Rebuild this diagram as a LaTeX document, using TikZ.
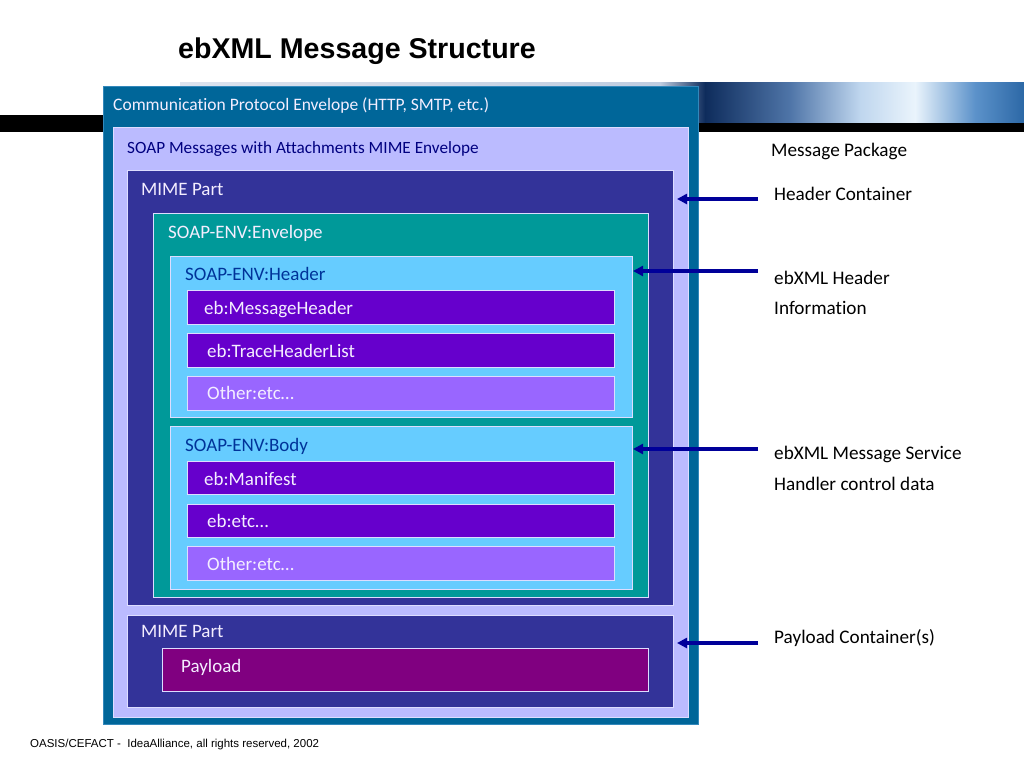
\documentclass[tikz,border=0pt]{standalone}
\usepackage{fontspec}
\setmainfont{Carlito}[Ligatures=NoCommon]
\newfontfamily\arialf{Liberation Sans}
\usetikzlibrary{arrows.meta}
\definecolor{cOuter}{HTML}{006699}
\definecolor{cOuterB}{HTML}{3388BB}
\definecolor{cLav}{HTML}{BBBBFF}
\definecolor{cLavB}{HTML}{DDDDFF}
\definecolor{cMime}{HTML}{333399}
\definecolor{cTeal}{HTML}{009999}
\definecolor{cLight}{HTML}{66CCFF}
\definecolor{cItem}{HTML}{6600CC}
\definecolor{cOther}{HTML}{9966FF}
\definecolor{cPay}{HTML}{800080}
\definecolor{cArrow}{HTML}{000099}
\definecolor{cNavy}{HTML}{000080}
\definecolor{cHdrTxt}{HTML}{003399}
\definecolor{cWTxt}{HTML}{F4EEFF}
\definecolor{sPale}{HTML}{DCE3EE}
\definecolor{sNavy}{HTML}{0E2C5C}
\definecolor{sMid}{HTML}{4F75A8}
\definecolor{sLite}{HTML}{BFD6EE}
\definecolor{sWhite}{HTML}{EAF4FC}
\definecolor{sBlue}{HTML}{5C92CA}
\definecolor{sDeep}{HTML}{2C68A6}
\tikzset{
  bx/.style={rectangle, inner sep=0pt, outer sep=0pt, line width=0.8pt},
  lbl/.style={anchor=base west, inner sep=0pt, font=\fontsize{19}{22}\selectfont},
  rlbl/.style={anchor=base west, inner sep=0pt, font=\fontsize{19.2}{22}\selectfont, text=black},
  arr/.style={draw=cArrow, line width=3.2pt, -{Triangle[length=10pt,width=10pt]}},
}
\newcommand\mkbox[7]{\node[bx,#2,minimum width={(#5-#3)*1pt},minimum height={(#6-#4)*1pt},anchor=north west] (#1) at (#3,#4) {#7};}
\begin{document}
\begin{tikzpicture}[x=1pt,y=-1pt]
\useasboundingbox (0,0) rectangle (1024,768);
\fill[white] (0,0) rectangle (1024,768);
% banner
\fill[black] (0,115) rectangle (1024,132);
\shade[left color=sPale, right color=sPale!80!sMid] (180,82) rectangle (660,122);
\shade[left color=sPale!80!sMid, right color=sNavy] (660,82) rectangle (705,122);
\shade[left color=sNavy, right color=sMid] (705,82) rectangle (790,122);
\shade[left color=sMid, right color=sLite] (790,82) rectangle (860,122);
\shade[left color=sLite, right color=sWhite] (860,82) rectangle (915,122);
\shade[left color=sWhite, right color=sBlue] (915,82) rectangle (975,122);
\shade[left color=sBlue, right color=sDeep] (975,82) rectangle (1024,122);
% title
\node[anchor=base west, inner sep=0pt, font=\arialf\bfseries\fontsize{28.6}{32}\selectfont] (title) at (178,59) {ebXML Message Structure};
% boxes
\mkbox{outer}{fill=cOuter,draw=cOuterB}{103}{86}{698}{724}{}
\mkbox{lav}{fill=cLav,draw=cLavB}{113}{127}{688}{717}{}
\mkbox{mimeA}{fill=cMime,draw=cLavB}{127}{170}{673}{605}{}
\mkbox{env}{fill=cTeal,draw=cLavB}{153}{213}{648}{597}{}
\mkbox{hdr}{fill=cLight,draw=cLavB}{170}{256}{632}{417}{}
\mkbox{mh}{fill=cItem,draw=cLavB}{187}{290}{614}{324}{}
\mkbox{thl}{fill=cItem,draw=cLavB}{187}{333}{614}{367}{}
\mkbox{othA}{fill=cOther,draw=cLavB}{187}{376}{614}{410}{}
\mkbox{body}{fill=cLight,draw=cLavB}{170}{426}{632}{589}{}
\mkbox{man}{fill=cItem,draw=cLavB}{187}{461}{614}{494}{}
\mkbox{ebetc}{fill=cItem,draw=cLavB}{187}{504}{614}{537}{}
\mkbox{othB}{fill=cOther,draw=cLavB}{187}{546}{614}{580}{}
\mkbox{mimeB}{fill=cMime,draw=cLavB}{127}{615}{673}{707}{}
\mkbox{pay}{fill=cPay,draw=cLavB}{162}{648}{648}{691}{}
% box labels
\node[lbl, text=cWTxt, font=\fontsize{17.5}{20}\selectfont] (tOuter) at (113,110) {Communication Protocol Envelope (HTTP, SMTP, etc.)};
\node[lbl, text=cNavy, font=\fontsize{17.2}{20}\selectfont] (tLav) at (127,153) {SOAP Messages with Attachments MIME Envelope};
\node[lbl, text=cWTxt] (tMimeA) at (141,195) {MIME Part};
\node[lbl, text=cWTxt] (tEnv) at (168,238) {SOAP-ENV:Envelope};
\node[lbl, text=cHdrTxt] (tHdr) at (185,280) {SOAP-ENV:Header};
\node[lbl, text=cWTxt] (tMh) at (204,314) {eb:MessageHeader};
\node[lbl, text=cWTxt] (tThl) at (207,357) {eb:TraceHeaderList};
\node[lbl, text=cWTxt] (tOthA) at (207,399) {Other:etc…};
\node[lbl, text=cHdrTxt] (tBody) at (185,451) {SOAP-ENV:Body};
\node[lbl, text=cWTxt] (tMan) at (204,485) {eb:Manifest};
\node[lbl, text=cWTxt] (tEbetc) at (207,527) {eb:etc…};
\node[lbl, text=cWTxt] (tOthB) at (207,570) {Other:etc…};
\node[lbl, text=cWTxt] (tMimeB) at (141,637) {MIME Part};
\node[lbl, text=cWTxt] (tPay) at (181,672) {Payload};
% right labels
\node[rlbl] (rPkg) at (771,156) {Message Package};
\node[rlbl] (rHC) at (774,200) {Header Container};
\node[rlbl] (rEH1) at (774,284) {ebXML Header};
\node[rlbl] (rEH2) at (774,314) {Information};
\node[rlbl] (rMS1) at (774,459) {ebXML Message Service};
\node[rlbl] (rMS2) at (774,490) {Handler control data};
\node[rlbl] (rPC) at (774,643) {Payload Container(s)};
% arrows
\coordinate (a1) at (758,199);
\coordinate (a2) at (758,271);
\coordinate (a3) at (758,449);
\coordinate (a4) at (758,643);
\draw[arr] (a1) -- ([xshift=4pt]mimeA.east |- a1);
\draw[arr] (a2) -- ([xshift=1pt]hdr.east |- a2);
\draw[arr] (a3) -- ([xshift=1pt]body.east |- a3);
\draw[arr] (a4) -- ([xshift=4pt]mimeB.east |- a4);
% footer
\node[anchor=base west, inner sep=0pt, font=\arialf\fontsize{11.5}{13}\selectfont] (foot) at (30,747) {OASIS/CEFACT -\ \ IdeaAlliance, all rights reserved, 2002};
\end{tikzpicture}
\end{document}
